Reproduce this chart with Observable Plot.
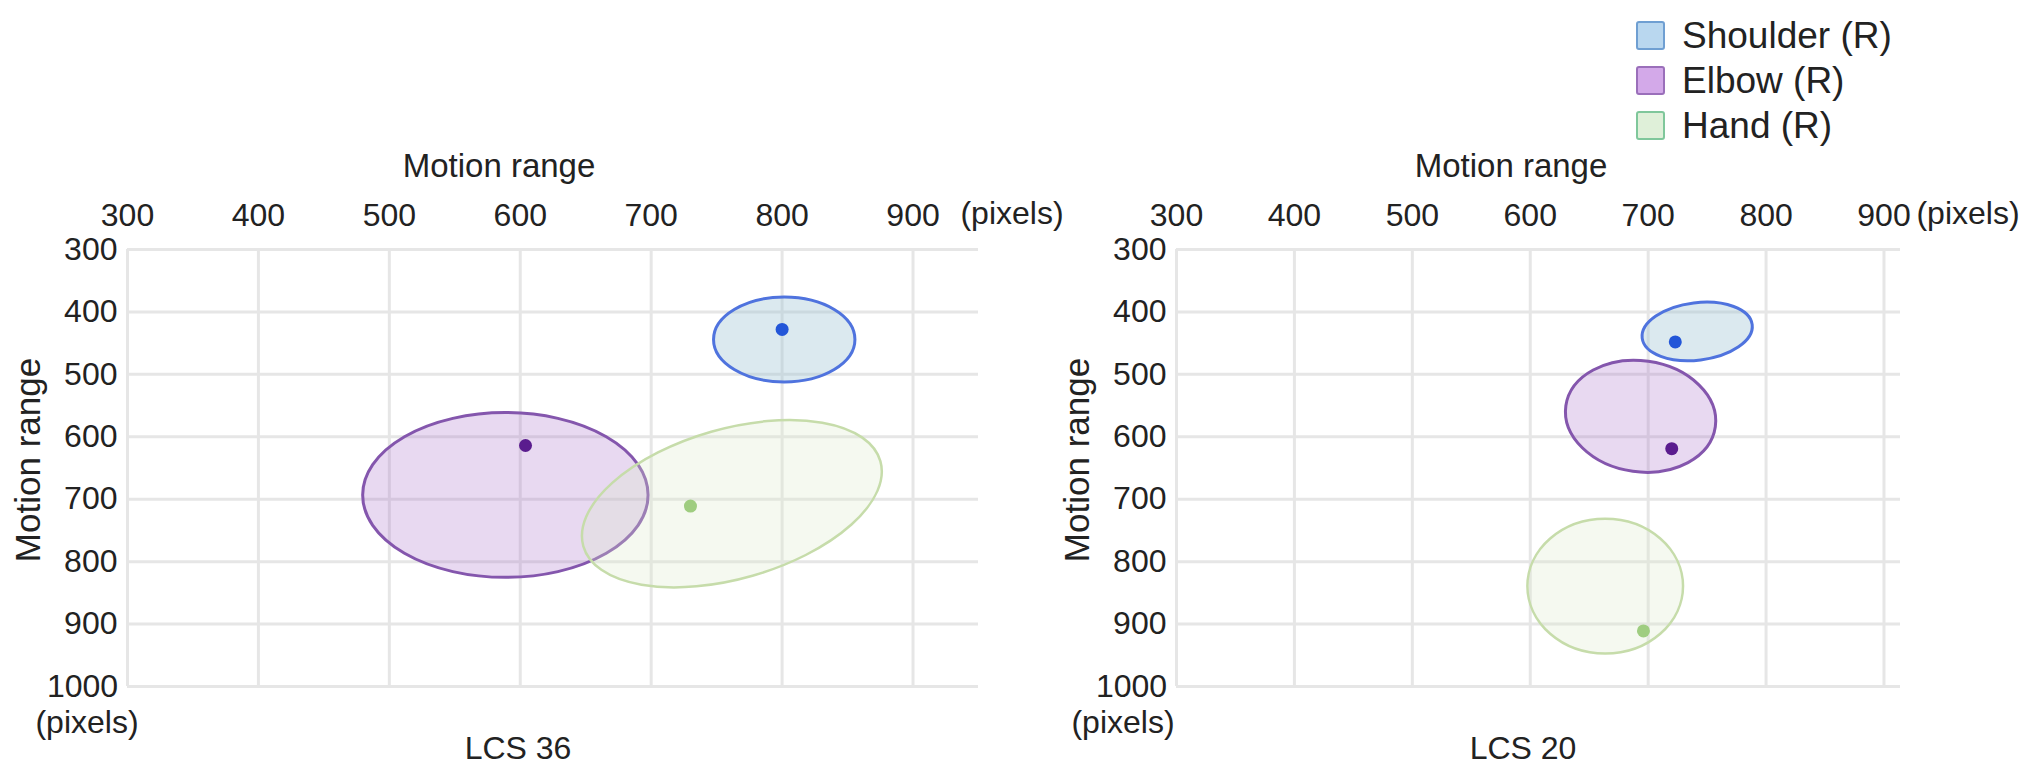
<!DOCTYPE html>
<html><head><meta charset="utf-8">
<script src="https://cdn.jsdelivr.net/npm/d3@7"></script>
<script src="https://cdn.jsdelivr.net/npm/@observablehq/plot@0.6"></script>
<style>
body{margin:0;background:#fff;font-family:"Liberation Sans",Arial,sans-serif;color:#222}
#wrap{position:relative;width:2032px;height:766px;overflow:hidden;background:#fff}
.panel{position:absolute;top:0}
.lbl{position:absolute;white-space:nowrap;font-size:31px;line-height:1;color:#222}
.c{transform:translate(-50%,-50%)}
.rot{transform:translate(-50%,-50%) rotate(-90deg)}
.leg{position:absolute;left:1636px;top:13px;font-size:37px;line-height:1;color:#222}
.leg div{display:flex;align-items:center;height:45px}
.leg span.b{display:inline-block;width:29px;height:29px;border-radius:3px;margin-right:17px;box-sizing:border-box}
</style></head><body><div id="wrap"></div>
<script>
// ---- data ----
const parts = ["Shoulder (R)", "Elbow (R)", "Hand (R)"];
const xTicks = [300, 400, 500, 600, 700, 800, 900];
const yTicks = [300, 400, 500, 600, 700, 800, 900, 1000];

// LCS 36 panel
const lcs36DotX = [800, 604, 730];
const lcs36DotY = [428, 614, 711];
const lcs36CenterX = [802, 589, 762];
const lcs36CenterY = [445, 694, 708];
const lcs36SemiX = [54, 109, 118];   // semi-axis, x units
const lcs36SemiY = [68, 132, 120];   // semi-axis, y units
const lcs36Tilt = [0, 0, 16];        // degrees

// LCS 20 panel
const lcs20DotX = [723, 720, 696];
const lcs20DotY = [448, 619, 911];
const lcs20CenterX = [742, 694, 664];
const lcs20CenterY = [432, 568, 840];
const lcs20SemiX = [47, 64, 66];
const lcs20SemiY = [46, 89, 108];
const lcs20Tilt = [7, -8, 0];

// ---- styles ----
const strokeColors = ["#4f73de", "#8456ad", "#c6dcaa"];
const fillColors = ["rgba(160,196,214,0.38)", "rgba(165,110,200,0.26)", "rgba(220,234,200,0.28)"];
const dotColors = ["#2356d8", "#5a1c8e", "#9fcd80"];
const strokeWidths = [3, 3, 2.5];

function rows(dx, dy, cx, cy, sx, sy, tilt) {
  return parts.map((p, i) => ({part: p, dx: dx[i], dy: dy[i], cx: cx[i], cy: cy[i], sx: sx[i], sy: sy[i], tilt: tilt[i], i}));
}

function ellipseMark(data) {
  return (index, scales) => {
    const g = d3.create("svg:g");
    for (const d of data) {
      const X = scales.x(d.cx), Y = scales.y(d.cy);
      const rx = Math.abs(scales.x(d.cx + d.sx) - X);
      const ry = Math.abs(scales.y(d.cy + d.sy) - Y);
      g.append("ellipse")
        .attr("cx", X).attr("cy", Y).attr("rx", rx).attr("ry", ry)
        .attr("transform", `rotate(${-d.tilt},${X},${Y})`)
        .attr("fill", fillColors[d.i])
        .attr("stroke", strokeColors[d.i])
        .attr("stroke-width", strokeWidths[d.i]);
    }
    return g.node();
  };
}

function panel({width, marginLeft, marginRight, xDomain, data}) {
  return Plot.plot({
    width, height: 766,
    marginLeft, marginRight, marginTop: 249, marginBottom: 80,
    x: {domain: xDomain},
    y: {domain: [300, 1000], reverse: true},
    style: {fontFamily: "'Liberation Sans', Arial, sans-serif", fontSize: "32px", color: "#222", background: "transparent", overflow: "visible"},
    marks: [
      Plot.gridX(xTicks, {stroke: "#e6e6e6", strokeOpacity: 1, strokeWidth: 3}),
      Plot.gridY(yTicks, {stroke: "#e6e6e6", strokeOpacity: 1, strokeWidth: 3}),
      ellipseMark(data),
      Plot.dot(data, {x: "dx", y: "dy", r: 6.5, fill: d => dotColors[d.i], stroke: "none"}),
      Plot.axisX(xTicks, {anchor: "top", tickSize: 0, tickPadding: 24, fontSize: 32, label: null, tickFormat: d => String(d)}),
      Plot.axisY(yTicks.slice(0, -1), {anchor: "left", tickSize: 0, tickPadding: 10, fontSize: 32, label: null, tickFormat: d => String(d)}),
      Plot.axisY([1000], {anchor: "left", tickSize: 0, tickPadding: 45, textAnchor: "middle", fontSize: 32, label: null, tickFormat: d => String(d)})
    ]
  });
}

const wrap = document.getElementById("wrap");
const p1 = panel({width: 1010, marginLeft: 127, marginRight: 32, xDomain: [300, 950],
  data: rows(lcs36DotX, lcs36DotY, lcs36CenterX, lcs36CenterY, lcs36SemiX, lcs36SemiY, lcs36Tilt)});
p1.classList.add("panel"); p1.style.left = "0px";
wrap.appendChild(p1);
const p2 = panel({width: 1032, marginLeft: 176, marginRight: 132, xDomain: [300, 914],
  data: rows(lcs20DotX, lcs20DotY, lcs20CenterX, lcs20CenterY, lcs20SemiX, lcs20SemiY, lcs20Tilt)});
p2.classList.add("panel"); p2.style.left = "1000px";
wrap.appendChild(p2);

function label(text, x, y, cls, size) {
  const d = document.createElement("div");
  d.className = "lbl " + cls;
  d.textContent = text;
  d.style.left = x + "px"; d.style.top = y + "px";
  if (size) d.style.fontSize = size + "px";
  wrap.appendChild(d);
}
label("Motion range", 499, 165, "c", 33);
label("Motion range", 1511, 165, "c", 33);
label("(pixels)", 1012, 213, "c", 32);
label("(pixels)", 1968, 213, "c", 32);
label("Motion range", 27, 460, "rot", 35);
label("Motion range", 1076, 460, "rot", 35);
label("(pixels)", 87, 722, "c", 32);
label("(pixels)", 1123, 722, "c", 32);
label("LCS 36", 518, 748, "c", 32);
label("LCS 20", 1523, 748, "c", 32);

// legend
const legStroke = ["#6f9fd2", "#9a6fba", "#7fc79b"];
const legFill = ["#b9d7ef", "#d3a9e9", "#dff0d9"];
const leg = document.createElement("div");
leg.className = "leg";
parts.forEach((p, i) => {
  const r = document.createElement("div");
  const b = document.createElement("span");
  b.className = "b";
  b.style.background = legFill[i];
  b.style.border = `2px solid ${legStroke[i]}`;
  r.appendChild(b);
  r.appendChild(document.createTextNode(p));
  leg.appendChild(r);
});
wrap.appendChild(leg);
</script>
</body></html>
